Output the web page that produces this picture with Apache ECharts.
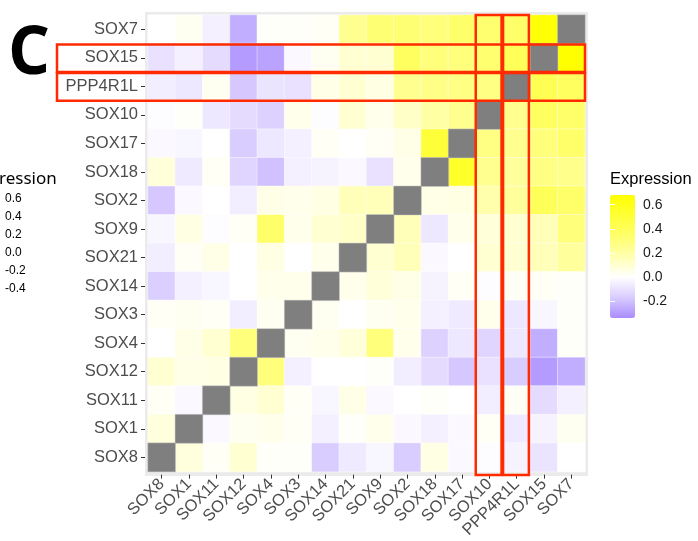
<!DOCTYPE html>
<html>
<head>
<meta charset="utf-8">
<script src="https://cdn.jsdelivr.net/npm/echarts@6/dist/echarts.min.js"></script>
<style>html,body{margin:0;padding:0;background:#fff;}#c{width:698px;height:541px;}</style>
</head>
<body>
<div id="c"></div>
<script>
// x-axis order (left to right); y-axis uses the same order bottom to top
const genes = ['SOX8','SOX1','SOX11','SOX12','SOX4','SOX3','SOX14','SOX21','SOX9','SOX2','SOX18','SOX17','SOX10','PPP4R1L','SOX15','SOX7'];
// rows listed top to bottom as displayed
const rowGenes = ['SOX7','SOX15','PPP4R1L','SOX10','SOX17','SOX18','SOX2','SOX9','SOX21','SOX14','SOX3','SOX4','SOX12','SOX11','SOX1','SOX8'];
const rowSOX7    = [0.00, 0.03,-0.05,-0.25, 0.01, 0.01, 0.02, 0.25, 0.32, 0.32, 0.30, 0.35, 0.33, 0.35, 0.66, null];
const rowSOX15   = [-0.10,-0.05,-0.12,-0.30,-0.28,-0.02, 0.03, 0.10, 0.10, 0.38, 0.30, 0.30, 0.33, 0.40, null, 0.68];
const rowPPP4R1L = [-0.06,-0.08, 0.03,-0.18,-0.09,-0.10, 0.05, 0.10, 0.06, 0.25, 0.27, 0.28, 0.28, null, 0.42, 0.38];
const rowSOX10   = [-0.01, 0.01,-0.08,-0.12,-0.15, 0.04,-0.01, 0.10, 0.04, 0.12, 0.20, 0.25, null, 0.25, 0.38, 0.35];
const rowSOX17   = [-0.02,-0.03, 0.00,-0.17,-0.08,-0.05, 0.02, 0.00, 0.02, 0.05, 0.50, null, 0.28, 0.25, 0.30, 0.35];
const rowSOX18   = [0.08,-0.07, 0.02,-0.14,-0.20,-0.05,-0.04,-0.02,-0.10, 0.04, null, 0.55, 0.25, 0.22, 0.28, 0.26];
const rowSOX2    = [-0.18,-0.02, 0.00,-0.06, 0.05, 0.04, 0.06, 0.15, 0.15, null, 0.05, 0.06, 0.18, 0.22, 0.40, 0.35];
const rowSOX9    = [-0.03, 0.06,-0.01, 0.02, 0.35, 0.04, 0.10, 0.12, null, 0.15,-0.08, 0.04, 0.08, 0.10, 0.15, 0.30];
const rowSOX21   = [-0.06, 0.02, 0.05, 0.00, 0.06, 0.00, 0.04, null, 0.10, 0.15,-0.02, 0.00, 0.10, 0.10, 0.15, 0.22];
const rowSOX14   = [-0.16,-0.05,-0.03, 0.00, 0.04, 0.04, null, 0.04, 0.08, 0.05,-0.04, 0.02,-0.01, 0.02, 0.02, 0.01];
const rowSOX3    = [0.02, 0.03, 0.02,-0.06, 0.03, null, 0.03, 0.00, 0.03, 0.04,-0.05,-0.07, 0.04,-0.08,-0.03, 0.01];
const rowSOX4    = [0.00, 0.05, 0.10, 0.30, null, 0.03, 0.04, 0.08, 0.30, 0.04,-0.15,-0.08,-0.14,-0.08,-0.25, 0.01];
const rowSOX12   = [0.10, 0.05, 0.06, null, 0.30,-0.05, 0.00, 0.00, 0.01,-0.06,-0.12,-0.18,-0.10,-0.17,-0.30,-0.25];
const rowSOX11   = [0.02,-0.02, null, 0.06, 0.10, 0.02,-0.03, 0.05,-0.02, 0.00, 0.01, 0.00,-0.06, 0.02,-0.12,-0.05];
const rowSOX1    = [0.07, null,-0.02, 0.03, 0.04, 0.02,-0.05, 0.01, 0.04,-0.02,-0.05,-0.02, 0.02,-0.07,-0.04, 0.03];
const rowSOX8    = [null, 0.07, 0.02, 0.10, 0.01, 0.01,-0.17,-0.07,-0.03,-0.17, 0.06,-0.02,-0.01,-0.04,-0.09, 0.00];
const valueRows = [rowSOX7,rowSOX15,rowPPP4R1L,rowSOX10,rowSOX17,rowSOX18,rowSOX2,rowSOX9,rowSOX21,rowSOX14,rowSOX3,rowSOX4,rowSOX12,rowSOX11,rowSOX1,rowSOX8];
const legendTicks = [-0.2, 0, 0.2, 0.4, 0.6];
const legendMin = -0.34, legendMax = 0.68;
const leftLegendLabels = ['0.6','0.4','0.2','0.0','-0.2','-0.4'];
const highlightRows = ['SOX15','PPP4R1L'];
const highlightCols = ['SOX10','PPP4R1L'];

const cells = [], diag = [];
valueRows.forEach((row, t) => {
  const yName = rowGenes[t];
  row.forEach((v, c) => {
    if (v === null) diag.push([genes[c], yName, 0]);
    else cells.push([genes[c], yName, v]);
  });
});

const G = {left: 148, top: 15, width: 437, height: 458};
const chart = echarts.init(document.getElementById('c'), null, {renderer: 'canvas'});
const labelFont = 'Liberation Sans, Arial, sans-serif';

const option = {
  animation: false,
  backgroundColor: '#ffffff',
  grid: [
    {left: G.left, top: G.top, width: G.width, height: G.height},
    {left: 610, top: 195, width: 25, height: 123}
  ],
  xAxis: [
    {type: 'category', gridIndex: 0, data: genes, offset: 3,
     axisLine: {show: false}, axisTick: {show: true, length: 4, alignWithLabel: true, interval: 0, lineStyle: {color: '#333', width: 1}},
     axisLabel: {rotate: 45, interval: 0, margin: 7, color: '#4d4d4d', fontSize: 16.5, fontFamily: labelFont},
     splitLine: {show: false}},
    {type: 'value', gridIndex: 1, show: false, min: 0, max: 1}
  ],
  yAxis: [
    {type: 'category', gridIndex: 0, data: genes, offset: 3,
     axisLine: {show: false}, axisTick: {show: true, length: 4, alignWithLabel: true, interval: 0, lineStyle: {color: '#333', width: 1}},
     axisLabel: {margin: 7, interval: 0, color: '#4d4d4d', fontSize: 16.5, fontFamily: labelFont},
     splitLine: {show: false}},
    {type: 'value', gridIndex: 1, position: 'right', min: legendMin, max: legendMax, z: 10,
     axisLine: {show: false}, splitLine: {show: false},
     axisTick: {show: true, inside: true, length: 5, customValues: legendTicks, lineStyle: {color: '#ffffff', width: 1}},
     axisLabel: {show: true, customValues: legendTicks, margin: 8, color: '#1a1a1a', fontSize: 14, fontFamily: labelFont,
                 formatter: v => v.toFixed(1)}},
    {type: 'value', gridIndex: 1, position: 'left', min: legendMin, max: legendMax, z: 10,
     axisLine: {show: false}, splitLine: {show: false}, axisLabel: {show: false},
     axisTick: {show: true, inside: true, length: 5, customValues: legendTicks, lineStyle: {color: '#ffffff', width: 1}}}
  ],
  visualMap: {
    type: 'continuous', seriesIndex: 0, min: legendMin, max: legendMax,
    left: 610, top: 195, itemWidth: 25, itemHeight: 123, padding: 0,
    calculable: false, hoverLink: false, showLabel: false, text: ['', ''],
    inRange: {color: ['#a98cff', '#d9ccff', '#ffffff', '#ffffb0', '#ffff6c', '#ffff36', '#ffff00']}
  },
  graphic: [
    {type: 'rect', z: -10, silent: true, shape: {x: G.left - 3, y: G.top - 3, width: G.width + 6, height: G.height + 6}, style: {fill: '#ebebeb'}},
    {type: 'text', left: 610, top: 171, style: {text: 'Expression', fill: '#000', font: '16.5px Liberation Sans, Arial, sans-serif'}},
    {type: 'text', left: 8, top: 22, style: {text: 'C', fill: '#000', font: 'bold 66px "Open Sans", sans-serif'}},
    {type: 'text', left: -1, top: 171, style: {text: 'ression', fill: '#000', font: '17px "Noto Sans", sans-serif'}}
  ].concat(leftLegendLabels.map((s, i) => ({
    type: 'text', left: 5, top: 193 + i * 18, style: {text: s, fill: '#000', font: '12px Liberation Sans, Arial, sans-serif'}
  }))),
  series: [
    {type: 'heatmap', xAxisIndex: 0, yAxisIndex: 0, data: cells,
     itemStyle: {borderColor: 'rgba(255,255,255,0.7)', borderWidth: 0.6},
     emphasis: {disabled: true}},
    {type: 'heatmap', xAxisIndex: 0, yAxisIndex: 0, data: diag,
     itemStyle: {color: '#7f7f7f', borderColor: 'rgba(200,200,200,0.8)', borderWidth: 0.6},
     emphasis: {disabled: true}}
  ]
};
chart.setOption(option);

// highlight boxes positioned through the chart's own axes
const cw = G.width / genes.length, ch = G.height / genes.length;
const boxes = [];
const red = '#ff2a00';
highlightRows.forEach(name => {
  const p = chart.convertToPixel({gridIndex: 0}, [genes[0], name]);
  const top = p[1] - ch / 2 + 1, bottom = p[1] + ch / 2;
  boxes.push({type: 'rect', z: 20, silent: true,
    shape: {x: 57, y: top, width: G.left + G.width - 57, height: bottom - top},
    style: {fill: 'none', stroke: red, lineWidth: 2.5}});
});
highlightCols.forEach(name => {
  const p = chart.convertToPixel({gridIndex: 0}, [name, genes[0]]);
  const left = p[0] - cw / 2, right = p[0] + cw / 2 - 1.5;
  boxes.push({type: 'rect', z: 20, silent: true,
    shape: {x: left, y: G.top, width: right - left, height: G.height + 2},
    style: {fill: 'none', stroke: red, lineWidth: 2.5}});
});
chart.setOption({graphic: option.graphic.concat(boxes)});
</script>
</body>
</html>
